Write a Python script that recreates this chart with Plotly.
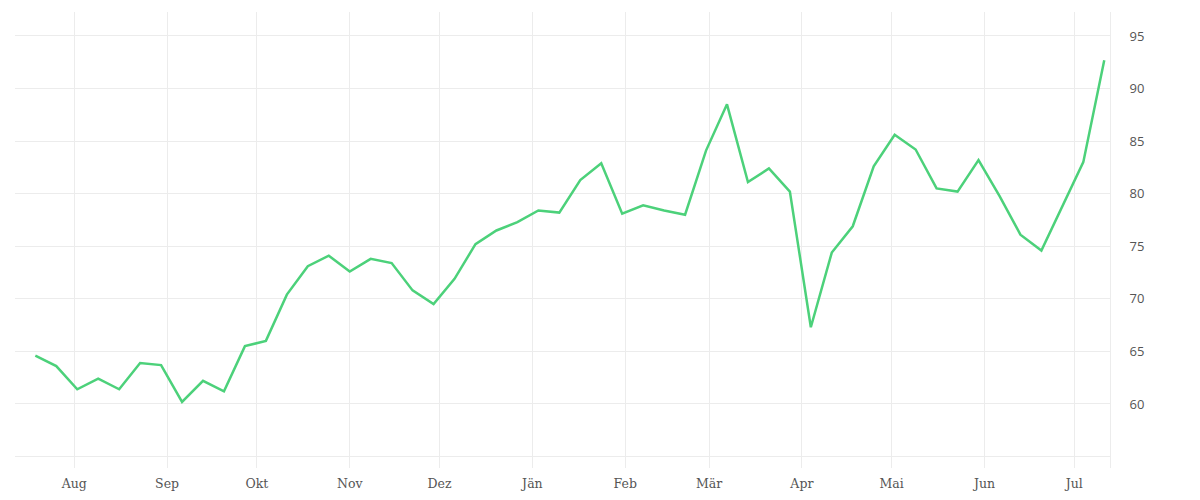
import pandas as pd
import plotly.graph_objects as go

# weekly values, first point on 2022-07-19
start_date = "2022-07-19"
values = [
    64.6, 63.6, 61.4, 62.4, 61.4, 63.9, 63.7, 60.2, 62.2, 61.2,
    65.5, 66.0, 70.4, 73.1, 74.1, 72.6, 73.8, 73.4, 70.8, 69.5,
    71.9, 75.2, 76.5, 77.3, 78.4, 78.2, 81.3, 82.9, 78.1, 78.9,
    78.4, 78.0, 84.1, 88.5, 81.1, 82.4, 80.2, 67.3, 74.4, 76.9,
    82.6, 85.6, 84.2, 80.5, 80.2, 83.2, 79.8, 76.1, 74.6, 78.8,
    83.0, 92.7,
]
dates = pd.date_range(start_date, periods=len(values), freq="7D")

month_ticks = pd.date_range("2022-08-01", "2023-07-01", freq="MS")
month_labels = ["Aug", "Sep", "Okt", "Nov", "Dez", "Jän", "Feb", "Mär",
                "Apr", "Mai", "Jun", "Jul"]

y_ticks = [55, 60, 65, 70, 75, 80, 85, 90, 95]
y_labels = ["", "60", "65", "70", "75", "80", "85", "90", "95"]

fig = go.Figure()
fig.add_trace(go.Scatter(
    x=dates,
    y=values,
    mode="lines",
    line=dict(width=2.5, color="#4cd17a"),
    hoverinfo="x+y",
))

fig.update_layout(
    width=1200, height=500,
    margin=dict(l=7, r=98, t=4, b=40),
    paper_bgcolor="white",
    plot_bgcolor="white",
    showlegend=False,
    font=dict(family="Open Sans", size=13, color="#555555"),
)
fig.update_xaxes(
    range=["2022-07-12 05:00", "2023-07-12 22:00"],
    tickvals=month_ticks,
    ticktext=month_labels,
    showgrid=True,
    gridcolor="#ececec",
    gridwidth=1,
    zeroline=False,
    showline=False,
    ticks="",
    ticklabelstandoff=6,
    tickfont=dict(family="DejaVu Serif", size=12.5, color="#555555"),
)
fig.update_yaxes(
    side="right",
    range=[53.91, 97.28],
    tickvals=y_ticks,
    ticktext=y_labels,
    showgrid=True,
    gridcolor="#ececec",
    gridwidth=1,
    zeroline=False,
    showline=True,
    linecolor="#ececec",
    linewidth=1,
    ticks="",
    ticklabelstandoff=16,
    tickfont=dict(family="Open Sans", size=13, color="#555555"),
)

fig.write_html("out.html")
